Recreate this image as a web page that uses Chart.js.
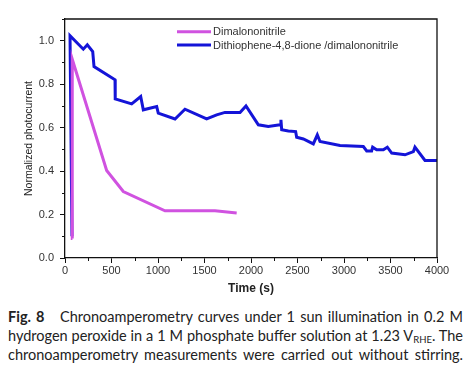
<!DOCTYPE html>
<html>
<head>
<meta charset="utf-8">
<script src="https://cdn.jsdelivr.net/npm/chart.js@4"></script>
<style>
  html, body { margin: 0; padding: 0; background: #fff; }
  #wrap { position: relative; width: 476px; height: 383px; overflow: hidden; }
  #c { position: absolute; left: 0; top: 0; }
  #cap { position: absolute; left: 8px; top: 307px; width: 455px; font-family: Lato, "Open Sans", sans-serif; font-size: 14.5px; line-height: 19px; color: #222; }
  #cap div { text-align: justify; text-align-last: justify; white-space: nowrap; }
  #cap b { font-weight: 700; }
  #cap sub { font-size: 9.5px; vertical-align: -2px; line-height: 0; }
</style>
</head>
<body>
<div id="wrap">
  <canvas id="c" width="476" height="300"></canvas>
  <div id="cap">
    <div><b>Fig. 8</b>&nbsp;&nbsp; Chronoamperometry curves under 1 sun illumination in 0.2 M</div>
    <div>hydrogen peroxide in a 1 M phosphate buffer solution at 1.23 V<sub>RHE</sub>. The</div>
    <div>chronoamperometry measurements were carried out without stirring.</div>
  </div>
</div>
<script>
// ---- data ----
const seriesNames = ["Dimalononitrile", "Dithiophene-4,8-dione /dimalononitrile"];
const dimalTime = [80, 78, 448, 627, 1075, 1613, 1846];
const dimalValue = [0.09, 0.915, 0.403, 0.306, 0.217, 0.217, 0.207];
const dithioTime = [75, 54, 197, 240, 298, 312, 538, 540, 717, 814, 842, 986, 1003, 1183, 1290, 1523, 1631, 1720, 1882, 1946, 2079, 2186, 2312, 2322, 2330, 2402, 2480, 2491, 2563, 2670, 2713, 2742, 2957, 3208, 3244, 3297, 3308, 3351, 3423, 3466, 3513, 3656, 3746, 3763, 3871, 4000];
const dithioValue = [0.10, 1.023, 0.961, 0.981, 0.95, 0.881, 0.82, 0.732, 0.709, 0.743, 0.682, 0.697, 0.667, 0.64, 0.685, 0.64, 0.659, 0.67, 0.67, 0.70, 0.613, 0.605, 0.613, 0.636, 0.59, 0.585, 0.582, 0.556, 0.548, 0.525, 0.567, 0.536, 0.518, 0.513, 0.493, 0.493, 0.51, 0.498, 0.498, 0.51, 0.483, 0.475, 0.49, 0.51, 0.449, 0.449];
const xTickStep = 500, xMin = 0, xMax = 4000;
const yTickStep = 0.2, yMin = 0, yMax = 1.1;
const xTitle = "Time (s)";
const yTitle = "Normalized photocurrent";

const toPts = (t, v) => t.map((x, i) => ({ x: x, y: v[i] }));
const colors = ["#d052e0", "#1414d8"];

const framePlugin = {
  id: 'frame',
  afterDraw(chart) {
    const { ctx, chartArea: a, scales } = chart;
    ctx.save();
    ctx.strokeStyle = '#111';
    ctx.lineWidth = 1.3;
    ctx.beginPath();
    ctx.moveTo(a.left, a.top); ctx.lineTo(a.right, a.top); ctx.lineTo(a.right, a.bottom);
    ctx.stroke();
    // minor ticks
    ctx.lineWidth = 1;
    ctx.beginPath();
    for (let v = xMin + xTickStep / 2; v < xMax; v += xTickStep) {
      const px = Math.round(scales.x.getPixelForValue(v)) + 0.5;
      ctx.moveTo(px, a.bottom); ctx.lineTo(px, a.bottom + 3);
    }
    for (let v = yMin + yTickStep / 2; v < yMax; v += yTickStep) {
      const py = Math.round(scales.y.getPixelForValue(v)) + 0.5;
      ctx.moveTo(a.left, py); ctx.lineTo(a.left - 3, py);
    }
    ctx.stroke();
    // legend
    ctx.font = '11px "Liberation Sans", Arial, sans-serif';
    ctx.textBaseline = 'middle';
    ctx.fillStyle = '#333';
    const lx = 177, ly = [31.7, 45];
    chart.data.datasets.forEach((ds, i) => {
      ctx.strokeStyle = ds.borderColor;
      ctx.lineWidth = 3;
      ctx.beginPath();
      ctx.moveTo(lx, ly[i]); ctx.lineTo(lx + 34, ly[i]);
      ctx.stroke();
      ctx.fillText(ds.label, lx + 36, ly[i] + 0.5);
    });
    ctx.restore();
  }
};

new Chart(document.getElementById('c'), {
  type: 'line',
  data: {
    datasets: [
      { label: seriesNames[0], data: toPts(dimalTime, dimalValue), borderColor: colors[0], backgroundColor: colors[0], borderWidth: 3, pointRadius: 0, tension: 0, fill: false },
      { label: seriesNames[1], data: toPts(dithioTime, dithioValue), borderColor: colors[1], backgroundColor: colors[1], borderWidth: 3, pointRadius: 0, tension: 0, fill: false }
    ]
  },
  options: {
    responsive: false,
    animation: false,
    devicePixelRatio: 1,
    layout: { padding: { top: 19, right: 39, left: 0, bottom: 0 } },
    plugins: { legend: { display: false }, tooltip: { enabled: false } },
    scales: {
      x: {
        type: 'linear', min: xMin, max: xMax,
        afterFit(s) { s.height = 42; },
        ticks: { stepSize: xTickStep, color: '#333', padding: 1, font: { family: '"Liberation Sans", Arial, sans-serif', size: 11 }, maxRotation: 0, includeBounds: false, callback: v => String(v) },
        grid: { drawOnChartArea: false, tickLength: 5, color: '#111', tickWidth: 1 },
        border: { color: '#111', width: 1.3 },
        title: { display: true, text: xTitle, color: '#222', font: { family: '"Liberation Sans", Arial, sans-serif', size: 12, weight: 'bold' }, padding: { top: 0, bottom: 4.5 } }
      },
      y: {
        type: 'linear', min: yMin, max: yMax,
        afterFit(s) { s.width = 65; },
        ticks: { stepSize: yTickStep, color: '#333', padding: 6, includeBounds: false, font: { family: '"Liberation Sans", Arial, sans-serif', size: 11 }, callback: v => v.toFixed(1) },
        grid: { drawOnChartArea: false, tickLength: 5, color: '#111', tickWidth: 1 },
        border: { color: '#111', width: 1.3 },
        title: { display: true, text: yTitle, color: '#222', font: { family: '"Liberation Sans", Arial, sans-serif', size: 10.5 }, padding: { top: 22.7, bottom: 0 } }
      }
    }
  },
  plugins: [framePlugin]
});
</script>
</body>
</html>
